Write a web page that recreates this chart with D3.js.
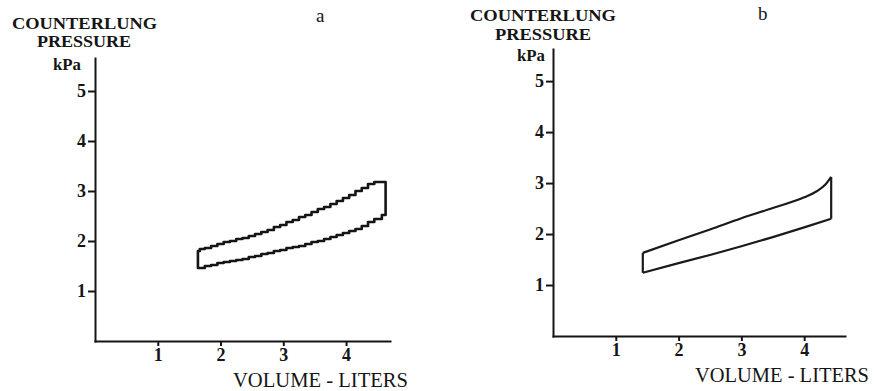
<!DOCTYPE html>
<html>
<head>
<meta charset="utf-8">
<script src="https://cdn.jsdelivr.net/npm/d3@7"></script>
<style>
  body { margin: 0; background: #fff; }
  svg text { font-family: "Liberation Serif", "DejaVu Serif", serif; fill: #151515; }
  .axis path, .axis line { stroke: #151515; stroke-width: 2px; }
  .axis text { font-size: 18px; font-weight: bold; }
</style>
</head>
<body>
<div id="chart"></div>
<script>
// tick values shared by both panels
const volumeTicks = [1, 2, 3, 4];
const pressureTicks = [1, 2, 3, 4, 5];

// panel a: measured loop (stepped trace)
const aUpperVol = [1.64, 1.7, 1.8, 1.9, 2.0, 2.1, 2.2, 2.3, 2.4, 2.5, 2.6, 2.7, 2.8, 2.9, 3.0, 3.1, 3.2, 3.3, 3.4, 3.5, 3.6, 3.7, 3.8, 3.9, 4.0, 4.1, 4.2, 4.3, 4.4, 4.5, 4.62];
const aUpperKpa = [1.80, 1.84, 1.86, 1.90, 1.94, 1.98, 2.00, 2.04, 2.06, 2.10, 2.14, 2.18, 2.22, 2.28, 2.32, 2.38, 2.42, 2.48, 2.52, 2.58, 2.64, 2.68, 2.74, 2.80, 2.86, 2.92, 3.00, 3.06, 3.14, 3.18, 3.18];
const aLowerVol = [1.64, 1.7, 1.8, 1.9, 2.0, 2.1, 2.2, 2.3, 2.4, 2.5, 2.6, 2.7, 2.8, 2.9, 3.0, 3.1, 3.2, 3.3, 3.4, 3.5, 3.6, 3.7, 3.8, 3.9, 4.0, 4.1, 4.2, 4.3, 4.4, 4.5, 4.64];
const aLowerKpa = [1.46, 1.46, 1.50, 1.52, 1.56, 1.58, 1.60, 1.62, 1.64, 1.68, 1.70, 1.74, 1.76, 1.80, 1.82, 1.86, 1.88, 1.90, 1.94, 1.98, 2.00, 2.04, 2.08, 2.12, 2.16, 2.20, 2.24, 2.30, 2.38, 2.44, 2.52];

// panel b: model loop (smooth)
const bUpperVol = [1.43, 2.0, 2.5, 3.0, 3.5, 4.0, 4.2, 4.33, 4.43];
const bUpperKpa = [1.63, 1.88, 2.09, 2.31, 2.51, 2.72, 2.84, 2.96, 3.12];
const bLowerVol = [1.43, 2.0, 2.5, 3.0, 3.5, 4.0, 4.43];
const bLowerKpa = [1.24, 1.43, 1.59, 1.76, 1.94, 2.13, 2.30];

const svg = d3.select('#chart').append('svg')
	.attr('width', 875)
	.attr('height', 391);

const zip = (xs, ys) => xs.map((v, i) => [v, ys[i]]);

function drawPanel(p) {
	const x = d3.scaleLinear().domain([0, p.xMax]).range([p.left, p.right]);
	const y = d3.scaleLinear().domain([0, p.yMax]).range([p.bottom, p.top]);

	svg.append('g')
		.attr('class', 'axis')
		.attr('transform', `translate(${p.left},0)`)
		.call(d3.axisLeft(y).tickValues(pressureTicks).tickSize(7).tickPadding(2).tickSizeOuter(0).tickFormat(d3.format('d')));
	svg.append('g')
		.attr('class', 'axis')
		.attr('transform', `translate(0,${p.bottom})`)
		.call(d3.axisBottom(x).tickValues(volumeTicks).tickSize(5).tickPadding(2).tickSizeOuter(0).tickFormat(d3.format('d')));
	svg.selectAll('.axis .domain').attr('stroke-linecap', 'square');

	const line = d3.line().x((d) => x(d[0])).y((d) => y(d[1]));
	const upper = zip(p.upperVol, p.upperKpa);
	const lower = zip(p.lowerVol, p.lowerKpa);

	if (p.stepped) {
		// closed loop traced as a staircase
		svg.append('path')
			.attr('d', line.curve(d3.curveStep)(upper.concat(lower.slice().reverse())) + 'Z')
			.attr('fill', 'none')
			.attr('stroke', '#151515')
			.attr('stroke-width', 2.6)
			.attr('stroke-linejoin', 'round');
	} else {
		svg.append('path')
			.attr('d', line.curve(d3.curveMonotoneX)(upper))
			.attr('fill', 'none').attr('stroke', '#1a1a1a').attr('stroke-width', 2.2);
		svg.append('path')
			.attr('d', line.curve(d3.curveLinear)(lower))
			.attr('fill', 'none').attr('stroke', '#1a1a1a').attr('stroke-width', 2.2);
		// vertical ends
		[[upper[0], lower[0]], [upper[upper.length - 1], lower[lower.length - 1]]].forEach((pair) => {
			svg.append('path')
				.attr('d', line.curve(d3.curveLinear)(pair))
				.attr('fill', 'none').attr('stroke', '#1a1a1a').attr('stroke-width', 2.2);
		});
	}

	// labels
	const t = p.text;
	svg.append('text').attr('x', t.c[0]).attr('y', t.c[1]).attr('textLength', t.c[2])
		.attr('lengthAdjust', 'spacingAndGlyphs')
		.style('font-size', '16px').style('font-weight', 'bold').text('COUNTERLUNG');
	svg.append('text').attr('x', t.p[0]).attr('y', t.p[1]).attr('textLength', t.p[2])
		.attr('lengthAdjust', 'spacingAndGlyphs')
		.style('font-size', '16px').style('font-weight', 'bold').text('PRESSURE');
	svg.append('text').attr('x', t.k[0]).attr('y', t.k[1]).attr('textLength', t.k[2])
		.attr('lengthAdjust', 'spacingAndGlyphs')
		.style('font-size', '16px').style('font-weight', 'bold').text('kPa');
	svg.append('text').attr('x', t.v[0]).attr('y', t.v[1]).attr('textLength', t.v[2])
		.attr('lengthAdjust', 'spacingAndGlyphs')
		.style('font-size', '20px').text('VOLUME - LITERS');
	svg.append('text').attr('x', t.l[0]).attr('y', t.l[1])
		.style('font-size', '19px').text(p.letter);
}

drawPanel({
	letter: 'a', stepped: true,
	xMax: 4.7, yMax: 5.66, left: 95, right: 390, top: 58, bottom: 341,
	upperVol: aUpperVol, upperKpa: aUpperKpa, lowerVol: aLowerVol, lowerKpa: aLowerKpa,
	text: { c: [12, 29, 145], p: [37, 47, 94], k: [53, 70, 28], v: [233, 387, 175], l: [316, 22] },
});

drawPanel({
	letter: 'b', stepped: false,
	xMax: 4.65, yMax: 5.63, left: 553, right: 845, top: 49, bottom: 336,
	upperVol: bUpperVol, upperKpa: bUpperKpa, lowerVol: bLowerVol, lowerKpa: bLowerKpa,
	text: { c: [470, 21, 146], p: [495, 40, 96], k: [517, 61, 28], v: [695, 382, 174], l: [758, 20] },
});
</script>
</body>
</html>
